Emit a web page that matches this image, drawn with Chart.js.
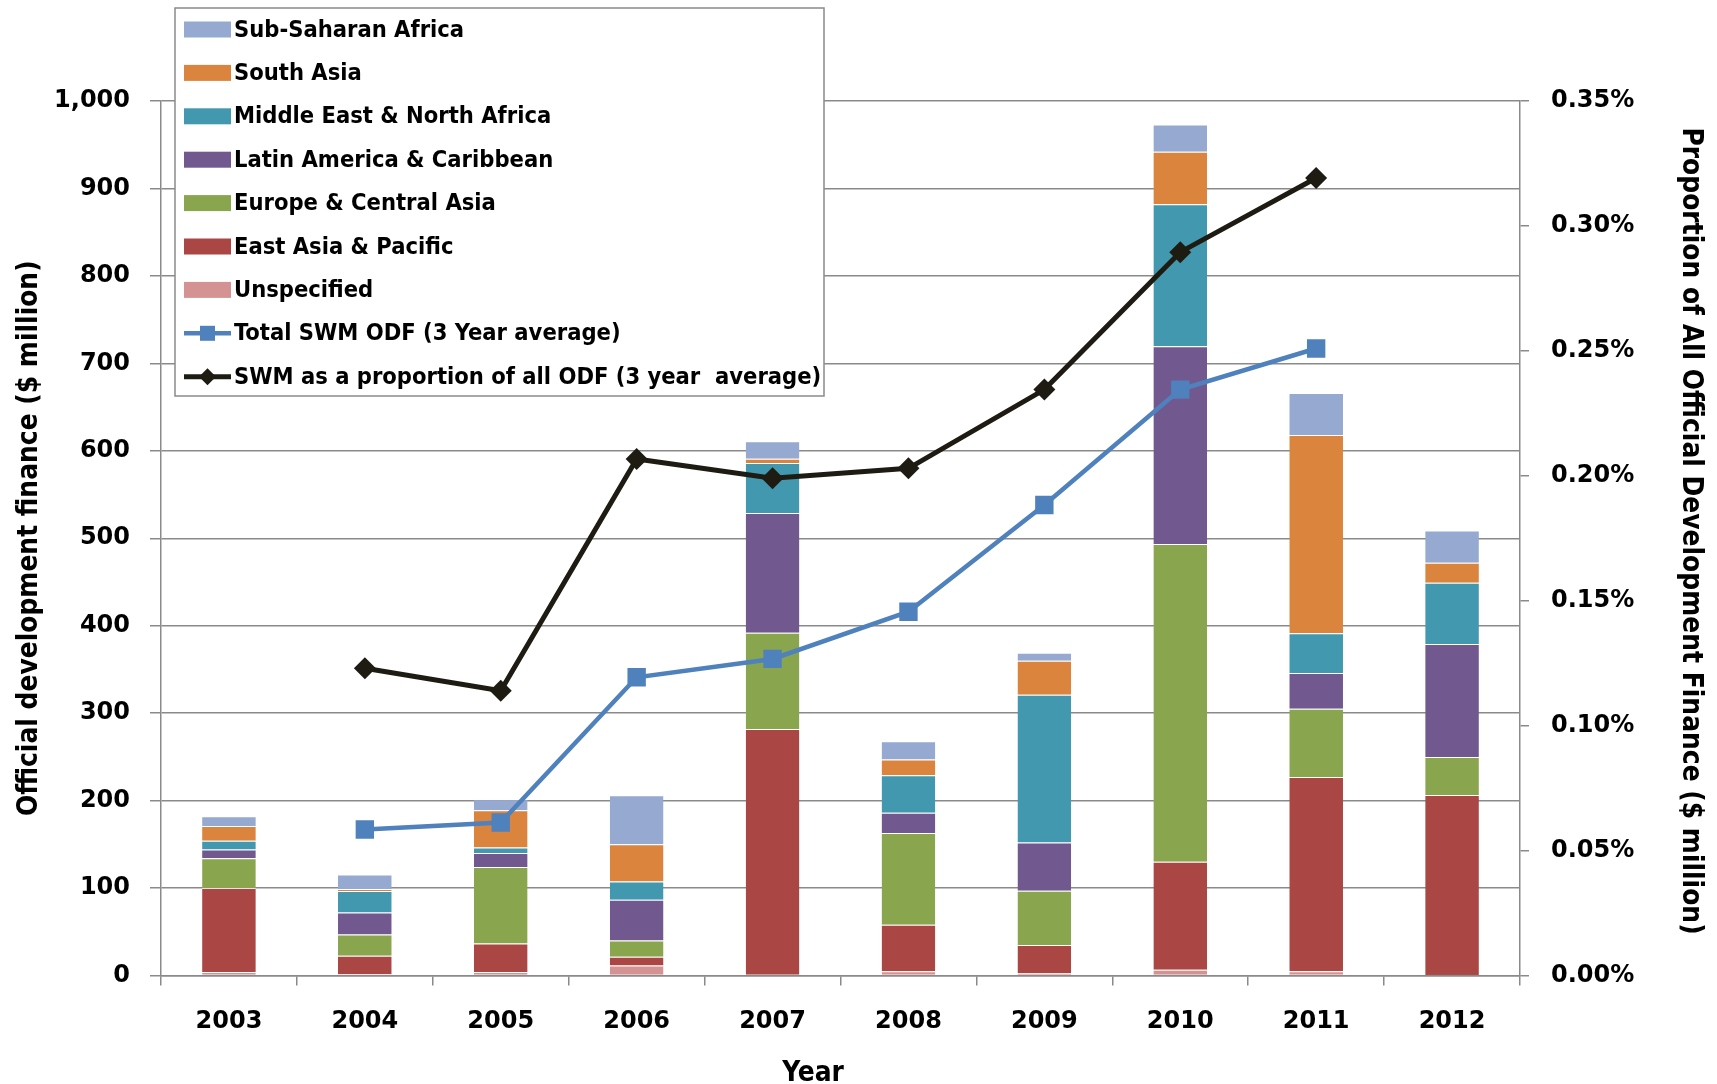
<!DOCTYPE html>
<html>
<head>
<meta charset="utf-8">
<script src="https://cdn.jsdelivr.net/npm/chart.js@4.4.1/dist/chart.umd.min.js"></script>
<style>
  html, body { margin: 0; padding: 0; background: #ffffff; }
  #wrap { width: 1717px; height: 1084px; position: relative; }
</style>
</head>
<body>
<div id="wrap"><canvas id="chart" width="1717" height="1084"></canvas></div>
<script>
// Solid waste management ODF by region, $ million
const years = ['2003', '2004', '2005', '2006', '2007', '2008', '2009', '2010', '2011', '2012'];
const unspecified = [4, 1.5, 4, 11.5, 1, 5, 3, 6.5, 5, 0.5];
const eastAsiaPacific = [96, 21, 32.5, 10, 281, 53, 32, 123.5, 222, 206];
const europeCentralAsia = [34, 24.5, 87.5, 18.5, 110, 105, 62, 363.5, 78, 43.5];
const latinAmericaCaribbean = [10, 25, 16, 46.5, 137, 23, 55, 226, 41, 129];
const middleEastNorthAfrica = [10, 24.5, 6.5, 21, 57, 43, 169, 162.5, 45.5, 70];
const southAsia = [17, 2.5, 42.5, 42.5, 5, 18, 39, 60, 226.5, 23];
const subSaharanAfrica = [11, 16.5, 12.5, 56, 20, 21, 9, 31, 48, 37];

// Three-year averages
const totalSwmOdf = [null, 167, 175, 341, 362, 416, 538, 670, 717, null];
const swmShareOfOdf = [null, 0.123, 0.114, 0.2067, 0.199, 0.203, 0.2345, 0.2895, 0.3192, null];

// Axis ticks
const leftTicks = [0, 100, 200, 300, 400, 500, 600, 700, 800, 900, 1000];
const rightTicks = [0, 0.05, 0.10, 0.15, 0.20, 0.25, 0.30, 0.35];

const TICK_FONT = { family: '"DejaVu Sans", Verdana, sans-serif', size: 24, weight: 'bold' };
const TITLE_FAMILY = '"DejaVu Sans Condensed", "Liberation Sans", sans-serif';
const AXIS_GREY = '#8a8a8a';

function barSet(label, data, color) {
  return {
    type: 'bar', label, data, backgroundColor: color,
    borderColor: 'rgba(255,255,255,0.55)',
    borderWidth: { top: 1, left: 0, right: 0, bottom: 0 },
    borderSkipped: false,
    yAxisID: 'y', stack: 'regions', order: 2,
    categoryPercentage: 1, barPercentage: 0.395
  };
}

const datasets = [
  barSet('Unspecified', unspecified, '#D49392'),
  barSet('East Asia & Pacific', eastAsiaPacific, '#AA4643'),
  barSet('Europe & Central Asia', europeCentralAsia, '#89A54E'),
  barSet('Latin America & Caribbean', latinAmericaCaribbean, '#71588F'),
  barSet('Middle East & North Africa', middleEastNorthAfrica, '#4298AF'),
  barSet('South Asia', southAsia, '#DB843D'),
  barSet('Sub-Saharan Africa', subSaharanAfrica, '#95A9D1'),
  {
    type: 'line', label: 'Total SWM ODF (3 Year average)', data: totalSwmOdf,
    borderColor: '#4F81BD', backgroundColor: '#4F81BD', borderWidth: 4.5,
    pointStyle: 'rect', pointRadius: 13, pointBorderWidth: 0,
    yAxisID: 'y', order: 1, spanGaps: false, tension: 0
  },
  {
    type: 'line', label: 'SWM as a proportion of all ODF (3 year  average)', data: swmShareOfOdf,
    borderColor: '#1E1C12', backgroundColor: '#1E1C12', borderWidth: 5,
    pointStyle: 'rectRot', pointRadius: 11, pointBorderWidth: 0,
    yAxisID: 'y2', order: 0, spanGaps: false, tension: 0
  }
];

// Boxed legend sitting over the upper-left of the plot
const boxedLegend = {
  id: 'boxedLegend',
  afterDraw(chart) {
    const ctx = chart.ctx;
    const x0 = 175, y0 = 8, w = 649, h = 388;
    const order = [6, 5, 4, 3, 2, 1, 0, 7, 8];
    ctx.save();
    ctx.fillStyle = '#ffffff';
    ctx.fillRect(x0, y0, w, h);
    ctx.strokeStyle = AXIS_GREY;
    ctx.lineWidth = 1.5;
    ctx.strokeRect(x0, y0, w, h);
    ctx.font = 'bold 23.5px ' + TITLE_FAMILY;
    ctx.textBaseline = 'middle';
    ctx.textAlign = 'left';
    order.forEach((di, i) => {
      const ds = chart.data.datasets[di];
      const cy = 29.5 + i * 43.4;
      if (ds.type === 'line') {
        ctx.strokeStyle = ds.borderColor;
        ctx.lineWidth = ds.borderWidth;
        ctx.beginPath();
        ctx.moveTo(184, cy);
        ctx.lineTo(231, cy);
        ctx.stroke();
        ctx.fillStyle = ds.backgroundColor;
        ctx.beginPath();
        if (ds.pointStyle === 'rect') {
          ctx.rect(200, cy - 7.5, 15, 15);
        } else {
          ctx.moveTo(207.5, cy - 8.5);
          ctx.lineTo(216, cy);
          ctx.lineTo(207.5, cy + 8.5);
          ctx.lineTo(199, cy);
          ctx.closePath();
        }
        ctx.fill();
      } else {
        ctx.fillStyle = ds.backgroundColor;
        ctx.fillRect(184, cy - 8, 47, 16);
      }
      ctx.fillStyle = '#000000';
      ctx.fillText(ds.label, 234, cy + 1);
    });
    ctx.restore();
  }
};

// Bottom and right axis titles, placed off-centre from their scales
const axisTitles = {
  id: 'axisTitles',
  afterDraw(chart) {
    const ctx = chart.ctx;
    ctx.save();
    ctx.fillStyle = '#000000';
    ctx.font = 'bold 27.8px ' + TITLE_FAMILY;
    ctx.textAlign = 'center';
    ctx.textBaseline = 'middle';
    ctx.fillText('Year', 813, 1074);
    ctx.translate(1690, 531);
    ctx.rotate(Math.PI / 2);
    ctx.fillText('Proportion of All Official Development Finance ($ million)', 0, 0);
    ctx.restore();
  }
};

new Chart(document.getElementById('chart'), {
  data: { labels: years, datasets },
  options: {
    responsive: false,
    animation: false,
    devicePixelRatio: 1,
    layout: { padding: { top: 101, left: 0, right: 0, bottom: 0 } },
    plugins: { legend: { display: false }, tooltip: { enabled: false } },
    scales: {
      x: {
        stacked: true,
        offset: true,
        grid: { offset: true, drawOnChartArea: false, drawTicks: true, tickLength: 10, color: AXIS_GREY, lineWidth: 1.5 },
        border: { display: true, color: AXIS_GREY, width: 1.5 },
        ticks: { font: TICK_FONT, color: '#000000', padding: 22, maxRotation: 0 },
        afterFit(scale) { scale.height = 108.5; }
      },
      y: {
        position: 'left',
        stacked: true,
        min: leftTicks[0], max: leftTicks[leftTicks.length - 1],
        afterBuildTicks(scale) { scale.ticks = leftTicks.map(v => ({ value: v })); },
        grid: { color: AXIS_GREY, lineWidth: 1.5, drawTicks: true, tickLength: 11 },
        border: { display: true, color: AXIS_GREY, width: 1.5 },
        ticks: {
          font: TICK_FONT, color: '#000000', padding: 20,
          callback: v => Number(v).toLocaleString('en-US')
        },
        title: {
          display: true, text: 'Official development finance ($ million)', color: '#000000',
          font: { family: TITLE_FAMILY, size: 27.8, weight: 'bold' },
          padding: { top: 13, bottom: 0 }
        },
        afterFit(scale) { scale.width = 161; }
      },
      y2: {
        position: 'right',
        min: rightTicks[0], max: rightTicks[rightTicks.length - 1],
        afterBuildTicks(scale) { scale.ticks = rightTicks.map(v => ({ value: v })); },
        grid: { drawOnChartArea: false, drawTicks: true, tickLength: 9, color: AXIS_GREY, lineWidth: 1.5 },
        border: { display: true, color: AXIS_GREY, width: 1.5 },
        ticks: {
          font: TICK_FONT, color: '#000000', padding: 22,
          callback: v => Number(v).toFixed(2) + '%'
        },
        afterFit(scale) { scale.width = 197; }
      }
    }
  },
  plugins: [boxedLegend, axisTitles]
});
</script>
</body>
</html>
